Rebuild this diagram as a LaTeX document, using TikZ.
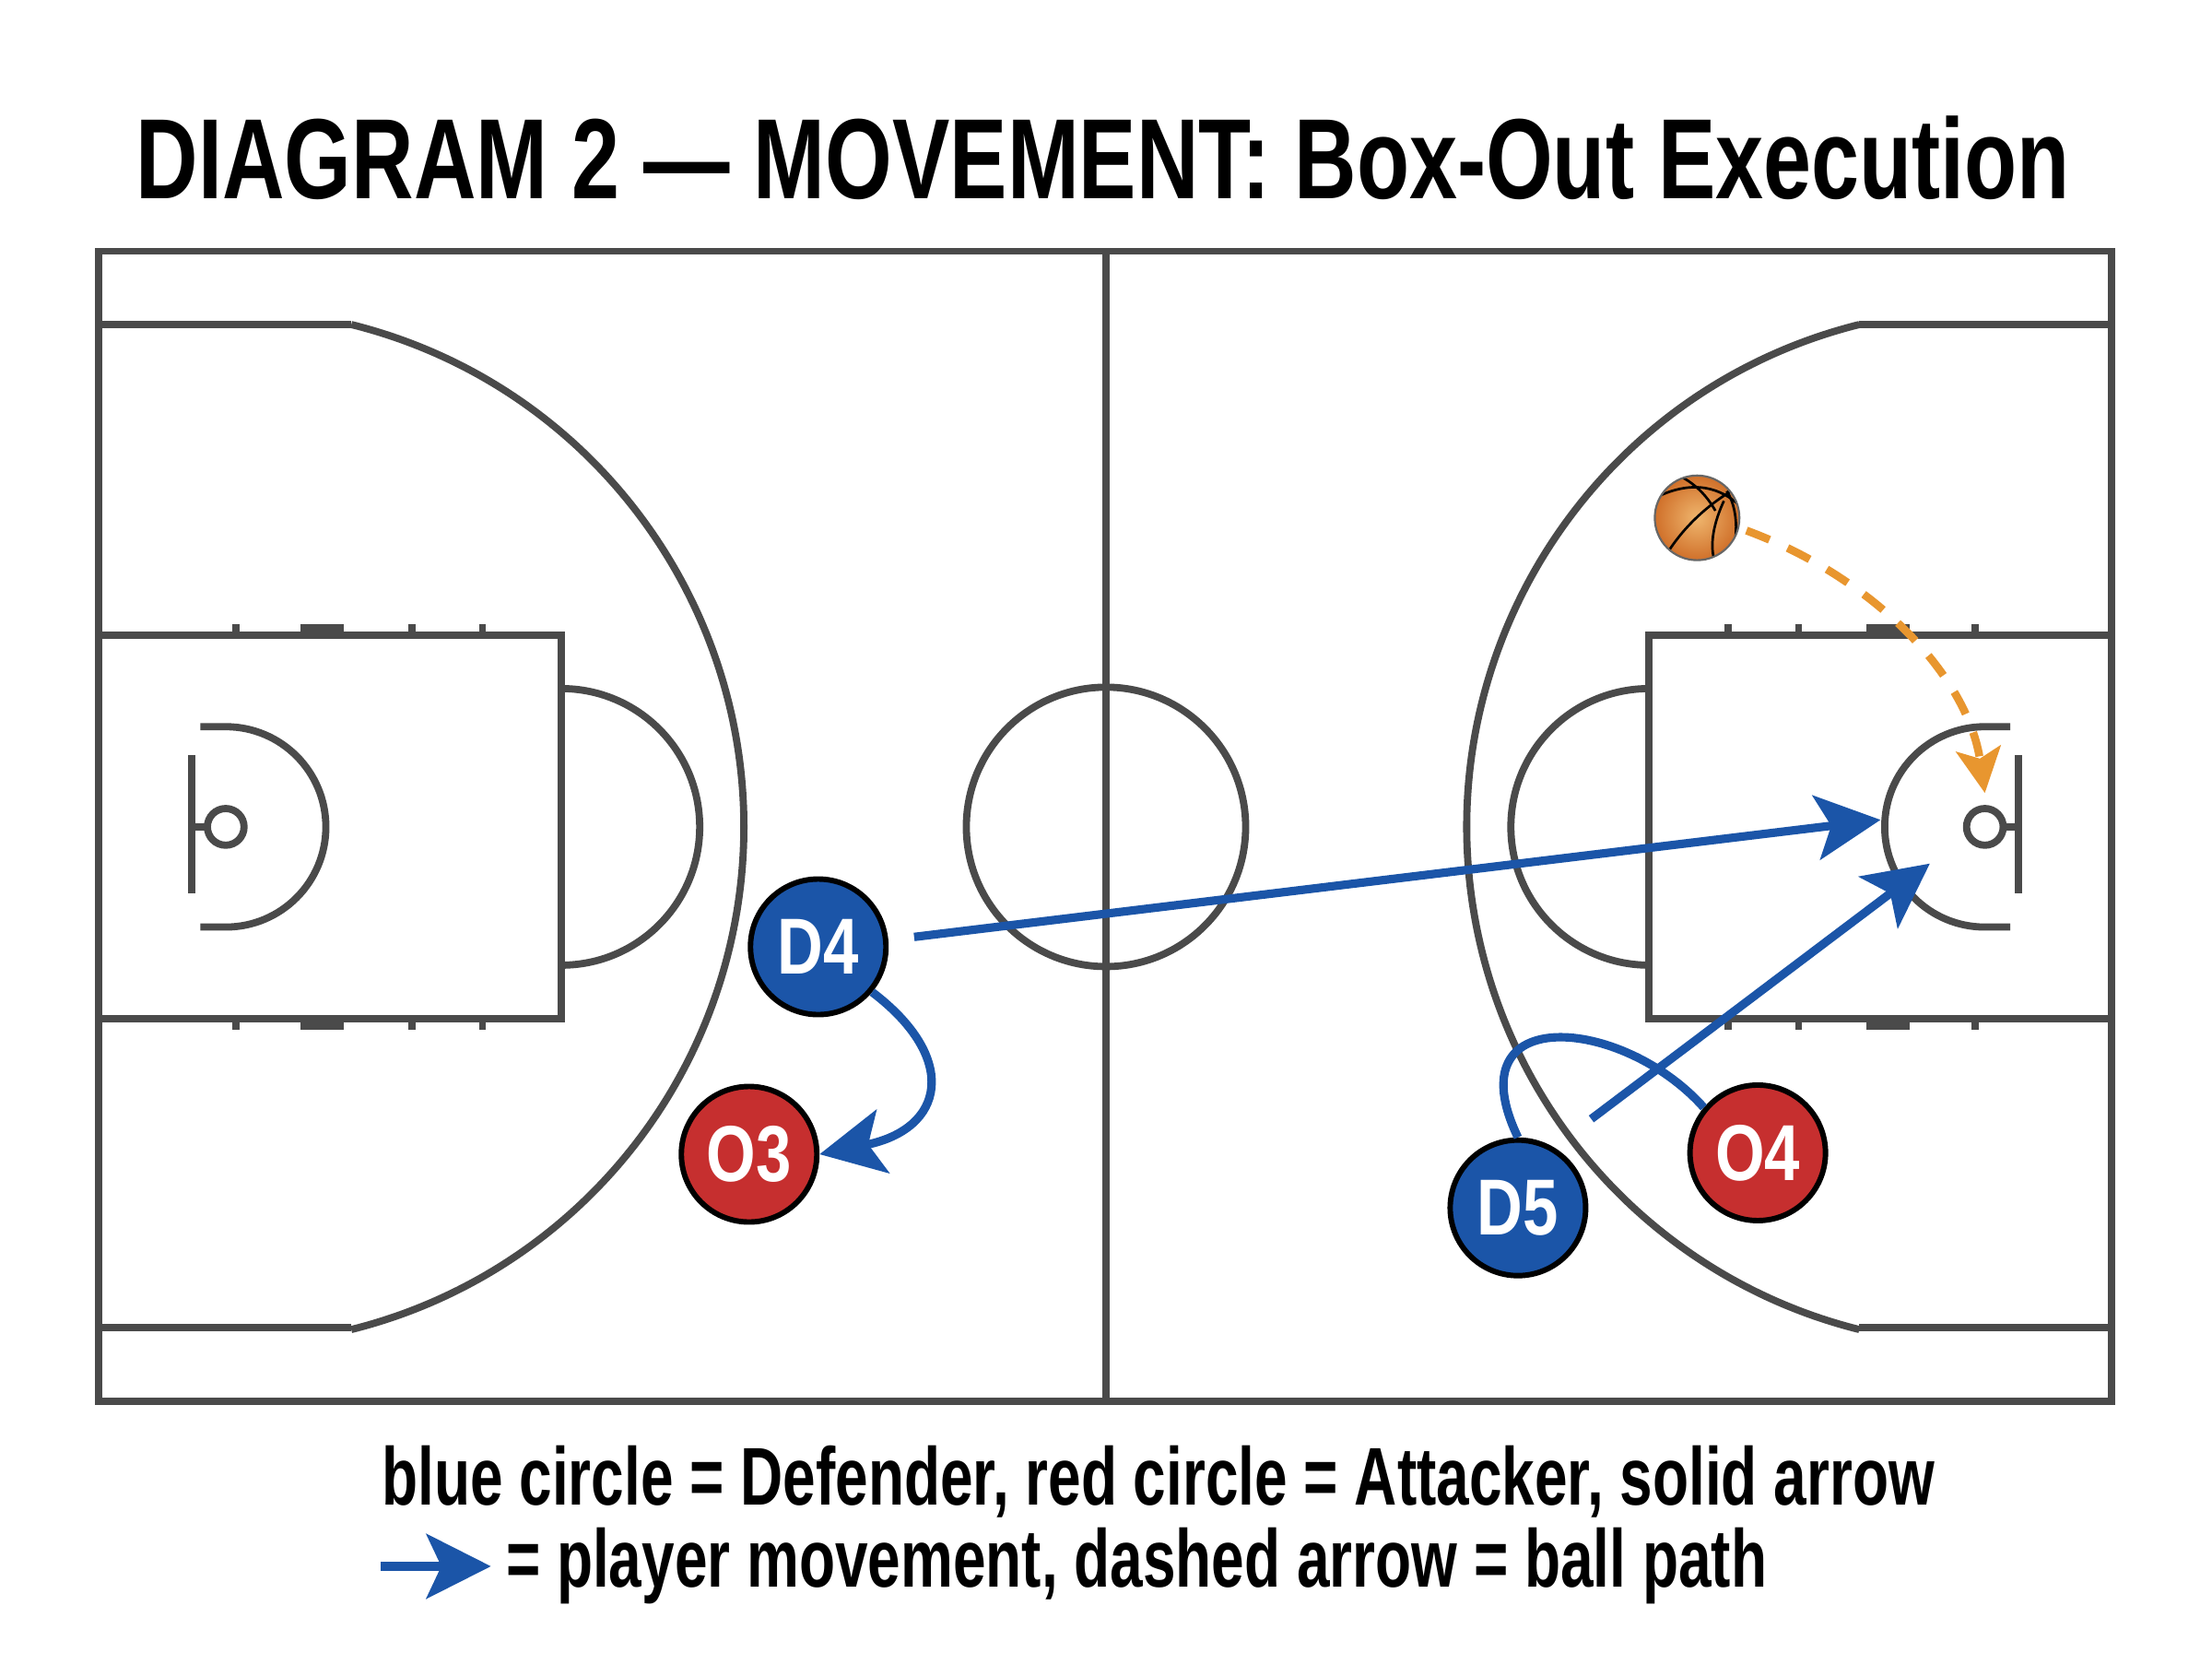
\documentclass[tikz,border=0pt]{standalone}
\usepackage{fontspec}
\setmainfont{Liberation Sans}
\usetikzlibrary{arrows.meta}
\definecolor{court}{HTML}{4A4A4A}
\definecolor{def}{HTML}{1B55A8}
\definecolor{att}{HTML}{C62F2F}
\definecolor{ballc}{HTML}{E8962F}
\definecolor{balld}{HTML}{D0702A}
\begin{document}
\begin{tikzpicture}[x=0.01cm,y=-0.01cm,
  cl/.style={draw=court,line width=1.45pt},
  player/.style={circle,draw=black,line width=1.1pt,minimum size=0.96cm,inner sep=0pt,text=white,font=\bfseries\fontsize{16}{16}\selectfont},
  defn/.style={player,fill=def},
  attn/.style={player,fill=att},
  move/.style={draw=def,line width=1.7pt,-{Stealth[length=13pt,width=13pt,inset=3pt]}},
  ballp/.style={draw=ballc,line width=1.6pt,dash pattern=on 5pt off 4pt,-{Stealth[length=9pt,width=9pt,inset=2pt]}}]
\useasboundingbox[fill=white] (0,0) rectangle (1568,1171);
\node[font=\bfseries\fontsize{23}{23}\selectfont] (title) at (782,112) {\scalebox{0.755}[1]{DIAGRAM 2 — MOVEMENT: Box-Out Execution}};
% court
\draw[cl] (70,178) rectangle (1497,993);
\draw[cl] (784,178) -- (784,993);
\draw[cl] (784,586) circle (99);
\foreach \m/\s in {0/1,1567/-1}{
\begin{scope}[shift={(\m,0)},xscale=\s]
\draw[cl] (70,230) -- (249,230);
\draw[cl] (70,941) -- (249,941);
\draw[cl] (249,230) arc[start angle=-76,end angle=76,radius=367];
\draw[cl] (70,450) rectangle (398,722);
\draw[cl] (398,488) arc[start angle=-90,end angle=90,radius=98];
\foreach \y/\d in {450/-1,722/1}{
  \foreach \x in {167,292,342}{\draw[cl] (\x,\y) -- ++(0,8*\d);}
  \fill[court] (213,\y) rectangle (244,\y+8*\d);
}
\draw[cl] (136,535) -- (136,633);
\draw[cl] (136,586) -- (147,586);
\draw[cl] (160,586) circle (13);
\draw[cl] (142,515) -- (160,515) arc[start angle=-90,end angle=90,radius=71] -- (142,657);
\end{scope}}
% ball
\begin{scope}
\shade[inner color=ballc!70!white,outer color=balld] (1203,367) circle (30);
\clip (1203,367) circle (30);
\draw[black,line width=0.5pt] (1175,352) .. controls (1200,340) and (1220,345) .. (1235,360);
\draw[black,line width=0.5pt] (1180,395) .. controls (1195,370) and (1215,355) .. (1232,345);
\draw[black,line width=0.5pt] (1192,338) .. controls (1205,345) and (1212,355) .. (1216,362);
\draw[black,line width=0.5pt] (1222,355) .. controls (1215,370) and (1212,385) .. (1215,396);
\draw[black,line width=0.5pt] (1224,348) .. controls (1232,360) and (1232,380) .. (1228,392);
\end{scope}
\draw[black!60,line width=0.4pt] (1203,367) circle (30);
\coordinate (ball) at (1238,376);
\coordinate (rimR) at (1407,562);
\draw[ballp] (ball) .. controls (1330,410) and (1395,480) .. (rimR);
% players
\node[defn] (D4) at (580,671) {\scalebox{0.8}[1]{D4}};
\node[attn] (O3) at (531,818) {\scalebox{0.8}[1]{O3}};
\node[defn] (D5) at (1076,856) {\scalebox{0.8}[1]{D5}};
\node[attn] (O4) at (1246,817) {\scalebox{0.8}[1]{O4}};
\coordinate (s1) at (648,664);
\coordinate (t1) at (1333,581);
\coordinate (t2) at (1368,612);
\coordinate (s2) at (1128,793);
\draw[move] (s1) -- (t1);
\draw[move] (D4.-40) .. controls (680,750) and (670,800) .. (O3.east);
\draw[move] (s2) -- (t2);
\draw[draw=def,line width=1.7pt] (O4.140) .. controls (1150,720) and (1030,710) .. (D5.north);
% legend
\node[anchor=west,inner sep=0pt,font=\bfseries\fontsize{16.5}{16.5}\selectfont] (leg1) at (270,1050) {\scalebox{0.72}[1]{blue circle = Defender, red circle = Attacker, solid arrow}};
\coordinate (la) at (270,1110);
\coordinate (lb) at (348,1110);
\draw[move] (la) -- (lb);
\node[anchor=west,inner sep=0pt,font=\bfseries\fontsize{16.5}{16.5}\selectfont] (leg2) at (358,1110) {\scalebox{0.72}[1]{= player movement, dashed arrow = ball path}};
\end{tikzpicture}
\end{document}
